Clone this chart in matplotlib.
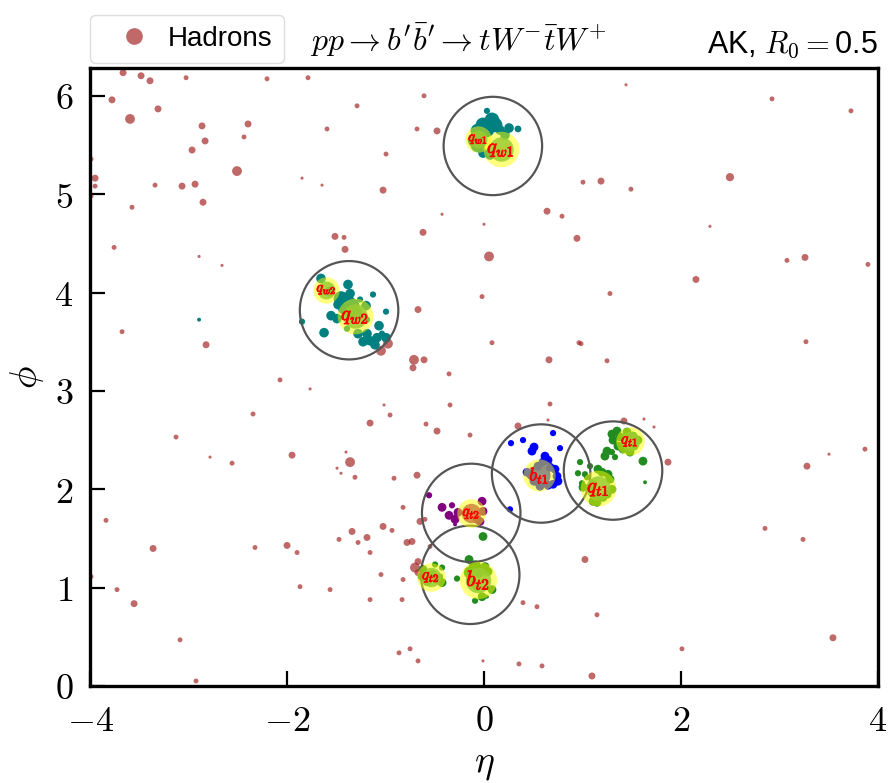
import numpy as np
import matplotlib
matplotlib.use("Agg")
import matplotlib.pyplot as plt
import matplotlib.patheffects as pe
from matplotlib.patches import Circle
from matplotlib.lines import Line2D

plt.rcParams['mathtext.fontset'] = 'cm'

# ---------------- background hadrons: (eta, phi, pT) ----------------
had_eta = [-3.665, -3.482, -3.391, -3.025, -2.203, -1.787, -3.777, -3.310, -3.594, -1.289,
           -2.863, -2.396, -2.437, -1.594, -2.832, -2.964, -3.990, -2.508, -3.949, -3.949,
           -3.340, -3.066, -2.934, -3.990, -1.848, -1.645, -2.853, -3.574, -3.756, -1.513,
           -1.421, -1.411, -2.893, -2.660, -0.609, -0.680, -0.477, -0.995, -1.025, -0.426,
           -0.619, 0.000, 0.051, 0.640, 0.792, 0.944, 1.005, 1.188, 1.442, 2.924,
           3.726, 2.497, 1.492, 2.294, 3.076, 3.259, 3.898, -3.675, -2.822, -2.071,
           -1.766, -2.345, -3.127, -2.782, -2.558, -1.949, -1.360, -1.401, -1.492, -1.452,
           -1.310, -0.020, -0.670, 1.279, -0.975, -1.046, 0.081, 0.964, 0.985, -0.711,
           -0.609, -0.721, 0.660, 1.249, -0.355, -0.345, 0.670, -1.015, -0.954, -1.157,
           -0.589, -0.477, -0.142, 0.345, 0.650, -0.680, -0.914, 2.152, 3.269, 1.421,
           1.624, 1.726, 1.868, 3.503, 3.868, 3.279, -3.086, -0.751, -0.863, -0.670,
           -0.010, 0.589, 1.096, 2.010, -2.924, 3.543, -3.838, -3.360, -3.990, -3.726,
           -3.553, -2.325, -2.000, -1.898, -1.868, -1.563, -1.472, -1.340, -1.188, -1.279,
           -1.157, -1.046, -1.157, -1.025, -0.934, -0.822, -0.650, -0.599, -0.731, -0.782,
           -0.548, -0.670, -0.701, -0.670, -0.822, -0.832, 0.396, 0.538, 0.355, 1.025,
           1.147, 2.853, 3.239]
had_phi = [6.235, 6.204, 6.153, 6.184, 6.173, 6.184, 5.959, 5.867, 5.765, 5.898,
           5.694, 5.714, 5.582, 5.663, 5.541, 5.449, 5.357, 5.235, 5.163, 5.082,
           5.092, 5.082, 5.102, 4.980, 5.163, 5.092, 4.918, 4.867, 4.459, 4.571,
           4.561, 4.439, 4.367, 4.276, 6.000, 5.663, 5.643, 5.408, 5.041, 4.796,
           4.612, 4.694, 4.367, 4.827, 4.776, 4.551, 5.122, 5.133, 6.112, 5.969,
           5.847, 5.173, 5.051, 4.673, 4.327, 4.357, 4.286, 3.602, 3.469, 3.112,
           3.020, 2.765, 2.531, 2.327, 2.265, 2.347, 2.276, 2.378, 2.214, 2.163,
           2.122, 3.959, 3.827, 3.990, 3.480, 3.408, 3.490, 3.490, 3.480, 3.316,
           3.316, 3.235, 3.316, 3.306, 3.173, 2.857, 2.867, 2.857, 2.755, 2.673,
           2.663, 2.592, 2.551, 2.643, 2.704, 2.143, 2.112, 4.133, 3.500, 2.694,
           2.714, 2.633, 2.276, 2.357, 2.408, 2.235, 0.469, 0.378, 0.337, 0.255,
           0.255, 0.204, 0.102, 0.378, 0.051, 0.490, 1.684, 1.398, 1.112, 0.980,
           0.837, 1.408, 1.429, 1.357, 1.010, 0.980, 1.490, 1.571, 1.510, 1.459,
           1.357, 1.133, 0.878, 1.622, 1.582, 1.816, 1.673, 1.694, 1.469, 1.459,
           1.418, 1.265, 1.204, 1.153, 1.082, 0.878, 0.847, 0.806, 0.224, 1.286,
           0.724, 1.602, 1.490]
had_pt = [5, 5, 5, 2.5, 2.5, 2.5, 5, 5, 10, 2.5,
          5, 5, 2.5, 2.5, 5, 5, 2.5, 10, 5, 2.5,
          2.5, 5, 5, 2.5, 1, 1, 5, 2.5, 2.5, 5,
          2.5, 5, 1, 1, 2.5, 2.5, 5, 2.5, 5, 1,
          5, 1, 10, 5, 2.5, 5, 2.5, 5, 1, 2.5,
          2.5, 7, 2.5, 1, 2.5, 5, 2.5, 2.5, 5, 2.5,
          1, 2.5, 2.5, 1, 2.5, 5, 10, 1, 1, 1,
          2.5, 2.5, 5, 2.5, 10, 10, 2.5, 2.5, 2.5, 10,
          5, 5, 5, 2.5, 2.5, 2.5, 2.5, 1, 2.5, 5,
          2.5, 5, 2.5, 5, 1, 5, 2.5, 5, 2.5, 5,
          1, 1, 5, 1, 2.5, 5, 2.5, 2.5, 2.5, 2.5,
          1, 2.5, 5, 2.5, 2.5, 5, 2.5, 5, 2.5, 2.5,
          5, 2.5, 5, 2.5, 2.5, 2.5, 2.5, 5, 5, 2.5,
          2.5, 2.5, 2.5, 5, 2.5, 2.5, 5, 2.5, 5, 5,
          2.5, 5, 10, 5, 2.5, 2.5, 2.5, 2.5, 2.5, 5,
          2.5, 2.5, 2.5]

# ---------------- jet constituents ----------------
w1_eta = [0.030, 0.345, 0.081, -0.010, -0.061, 0.162, -0.061, -0.010, 0.061, 0.112, 0.030, 0.213, -0.091, 0.254]
w1_phi = [5.847, 5.663, 5.755, 5.704, 5.643, 5.653, 5.500, 5.418, 5.398, 5.704, 5.653, 5.602, 5.551, 5.673]
w1_pt = [2.5, 3, 14, 14, 14, 6, 14, 6, 6, 14, 14, 6, 14, 6]

w2_eta = [-1.655, -1.381, -1.574, -1.452, -1.381, -1.411, -1.340, -1.482, -1.259, -1.198,
          -1.127, -1.553, -1.848, -1.492, -1.391, -1.066, -0.995, -1.188, -1.624, -1.279,
          -1.188, -1.157, -1.228, -1.086, -1.036, -1.107, -0.995, -1.310, -1.360, -2.893]
w2_phi = [4.143, 4.082, 4.010, 3.939, 3.898, 3.847, 3.867, 3.878, 3.929, 3.867,
          3.980, 3.765, 3.704, 3.735, 3.633, 3.663, 3.806, 3.724, 3.592, 3.582,
          3.582, 3.510, 3.500, 3.541, 3.582, 3.469, 3.541, 3.796, 3.990, 3.724]
w2_pt = [6, 6, 6, 14, 14, 14, 14, 6, 2.5, 6,
         2.5, 6, 2.5, 6, 2.5, 6, 2.5, 2.5, 6, 6,
         6, 6, 6, 6, 2.5, 6, 6, 14, 6, 1]

bt1_eta = [0.274, 0.396, 0.701, 0.772, 0.487, 0.508, 0.619, 0.650, 0.599, 0.437,
           0.721, 0.741, 0.751, 0.701, 0.650, 0.569, 0.508, 0.264, 0.548, 0.670, 0.477]
bt1_phi = [2.469, 2.500, 2.571, 2.418, 2.388, 2.429, 2.337, 2.296, 2.276, 2.173,
           2.204, 2.133, 2.082, 2.051, 2.041, 2.031, 2.082, 1.796, 2.235, 2.224, 2.143]
bt1_pt = [2.5, 2.5, 2.5, 2.5, 5, 5, 5, 5, 5, 5,
          5, 5, 5, 5, 5, 5, 5, 2.5, 5, 5, 5]

qt1_eta = [1.299, 1.350, 1.310, 1.381, 1.452, 1.513, 1.563, 1.360, 1.411, 1.482,
           1.523, 1.299, 1.249, 1.228, 1.330, 1.614, 1.635, 0.975, 0.954, 1.025,
           1.076, 1.046, 1.157, 1.198, 1.259, 1.279, 1.107, 1.076, 1.127, 1.208,
           1.249, 1.005, 0.995, 1.147, 1.107, 1.299]
qt1_phi = [2.561, 2.592, 2.500, 2.531, 2.582, 2.541, 2.500, 2.439, 2.408, 2.378,
           2.439, 2.378, 2.388, 2.337, 2.327, 2.286, 2.071, 2.276, 2.163, 2.153,
           2.235, 2.122, 2.204, 2.173, 2.153, 2.102, 2.051, 2.020, 1.918, 1.918,
           1.949, 2.020, 2.061, 1.867, 1.878, 2.000]
qt1_pt = [5, 5, 5, 5, 5, 5, 5, 5, 5, 5,
          5, 2.5, 5, 5, 2.5, 5, 1, 2.5, 2.5, 2.5,
          2.5, 2.5, 5, 5, 5, 5, 5, 5, 5, 5,
          5, 5, 2.5, 5, 5, 5]

qt2_eta = [-0.558, -0.426, -0.325, -0.355, -0.294, -0.020, -0.010, -0.041, -0.071, -0.264, -0.294]
qt2_phi = [1.939, 1.816, 1.837, 1.735, 1.694, 1.878, 1.776, 1.673, 1.694, 1.765, 1.643]
qt2_pt = [2.5, 5, 2.5, 5, 5, 5, 5, 5, 5, 5, 1]

bt2_eta = [-0.010, -0.152, -0.091, -0.142, -0.061, 0.010, 0.041, 0.081, -0.020, 0.030,
           -0.091, -0.274, -0.122, -0.071, -0.497, -0.426, -0.619, -0.629, -0.579, -0.477,
           -0.447, -0.528, -0.426]
bt2_phi = [1.520, 1.286, 1.214, 1.153, 1.163, 1.214, 1.163, 0.980, 0.908, 0.908,
           0.867, 1.092, 1.051, 1.010, 1.235, 1.204, 1.184, 1.112, 1.061, 1.082,
           1.112, 1.133, 1.051]
bt2_pt = [5, 5, 10, 10, 10, 5, 5, 5, 5, 1,
          2.5, 2.5, 5, 5, 2.5, 2.5, 5, 5, 5, 5,
          2.5, 5, 5]

# ---------------- reconstructed jets (R0 = 0.5) ----------------
jet_eta = [0.09, -1.37, 0.58, 1.31, -0.13, -0.14]
jet_phi = [5.49, 3.82, 2.16, 2.19, 1.76, 1.13]
R0 = 0.5

# ---------------- partons ----------------
parton_names = [r"$q_{w1}$", r"$q_{w1}$", r"$q_{w2}$", r"$q_{w2}$", r"$b_{t1}$",
                r"$q_{t1}$", r"$q_{t1}$", r"$q_{t2}$", r"$b_{t2}$", r"$q_{t2}$"]
parton_eta = [-0.06, 0.17, -1.60, -1.31, 0.56, 1.48, 1.16, -0.13, -0.06, -0.54]
parton_phi = [5.56, 5.46, 4.03, 3.76, 2.14, 2.49, 2.01, 1.755, 1.08, 1.11]
parton_pt = [60, 110, 60, 110, 90, 70, 110, 70, 120, 70]
parton_color = ['yellowgreen', 'yellowgreen', 'yellowgreen', 'yellowgreen', 'grey',
                'yellowgreen', 'yellowgreen', 'peru', 'yellowgreen', 'yellowgreen']

fig = plt.figure(figsize=(8.88, 7.83), dpi=100)
ax = fig.add_axes([0.1014, 0.1239, 0.8873, 0.7893])

ax.scatter(had_eta, had_phi, s=np.array(had_pt) * 5, color='brown', alpha=0.7,
           linewidths=0, zorder=2, label='Hadrons')

groups = [(w1_eta, w1_phi, w1_pt, 'teal'), (w2_eta, w2_phi, w2_pt, 'teal'),
          (bt1_eta, bt1_phi, bt1_pt, 'blue'), (qt1_eta, qt1_phi, qt1_pt, 'forestgreen'),
          (qt2_eta, qt2_phi, qt2_pt, 'purple'), (bt2_eta, bt2_phi, bt2_pt, 'forestgreen')]
for e, p, pt, c in groups:
    ax.scatter(e, p, s=np.array(pt) * 8, color=c, linewidths=0, zorder=3)

for e, p in zip(jet_eta, jet_phi):
    ax.add_patch(Circle((e, p), R0, fill=False, edgecolor='#555555', lw=1.6, zorder=4))

for name, e, p, pt, c in zip(parton_names, parton_eta, parton_phi, parton_pt, parton_color):
    ax.scatter(e, p, s=pt * 6, color='yellow', alpha=0.5, linewidths=0, zorder=5)
    ax.scatter(e, p, s=pt * 2.8, color=c, alpha=0.85, linewidths=0, zorder=6)
    ax.text(e, p, name, color='red', fontsize=5 + pt * 0.09, ha='center', va='center',
            zorder=7, path_effects=[pe.withStroke(linewidth=0.6, foreground='red')])

ax.set_xlim(-4, 4)
ax.set_ylim(0, 2 * np.pi)
xt = [-4, -2, 0, 2, 4]
yt = [0, 1, 2, 3, 4, 5, 6]
ax.set_xticks(xt)
ax.set_xticklabels([f"${v}$" for v in xt])
ax.set_yticks(yt)
ax.set_yticklabels([f"${v}$" for v in yt])
ax.tick_params(direction='in', length=11, width=1.6, labelsize=26)
ax.tick_params(axis='x', pad=13)
ax.tick_params(axis='y', pad=12)
for sp in ax.spines.values():
    sp.set_linewidth(2.4)
ax.set_xlabel(r"$\eta$", fontsize=27, labelpad=6)
ax.set_ylabel(r"$\phi$", fontsize=27, labelpad=6)

handle = Line2D([], [], marker='o', linestyle='none', color='brown', alpha=0.7,
                markersize=12, markeredgewidth=0)
ax.legend([handle], ['Hadrons'], loc='lower left', bbox_to_anchor=(0.0, 1.008),
          borderaxespad=0, handletextpad=0.0, handlelength=2.4,
          prop={'family': 'Liberation Sans', 'size': 20}, framealpha=1,
          edgecolor='#dddddd')

ax.text(0.467, 1.045, r"$pp\rightarrow b'\bar{b}'\rightarrow tW^{-}\bar{t}W^{+}$",
        transform=ax.transAxes, ha='center', va='center', fontsize=23)
ax.text(1.0, 1.038, r"AK, $R_0=$0.5", transform=ax.transAxes, ha='right', va='center',
        fontsize=22, family='Liberation Sans')

fig.savefig("out.png", dpi=100)
